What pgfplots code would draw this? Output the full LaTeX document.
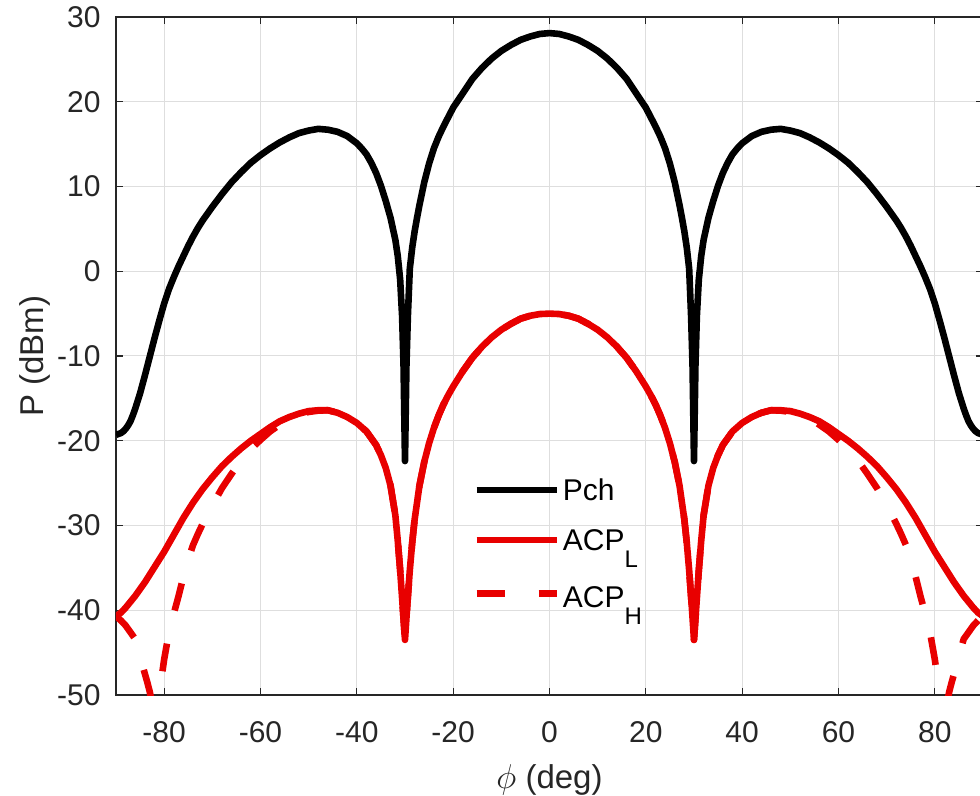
\documentclass[border=0pt]{standalone}
\usepackage{pgfplots}
\pgfplotsset{compat=1.18}
\usepackage{pgfplotstable}
\usepackage{fontspec}
\setmainfont{Liberation Sans}
\usetikzlibrary{calc}
\definecolor{axgray}{RGB}{38,38,38}
\definecolor{gridgray}{RGB}{222,222,222}
\definecolor{myred}{RGB}{232,0,0}

\pgfplotstableread{
x y
-90 -19.3
-89.5 -19.2
-89 -19.1
-88.5 -18.9
-88 -18.6
-87.5 -18.2
-87 -17.7
-86.5 -17.0
-86 -16.2
-85.5 -15.3
-85 -14.4
-84 -12.3
-83 -10.1
-82 -7.9
-81 -5.8
-80 -3.8
-79 -2.1
-78 -0.7
-77 0.6
-76 1.8
-75 3.0
-74 4.1
-73 5.1
-72 6.0
-70 7.6
-68 9.1
-66 10.5
-64 11.7
-62 12.8
-60 13.7
-58 14.5
-56 15.2
-54 15.8
-52 16.3
-50 16.6
-48 16.8
-46 16.7
-44 16.45
-42 15.95
-40 15.1
-39 14.5
-38 13.8
-37 12.8
-36 11.6
-35 10.1
-34 8.3
-33 6.3
-32 3.7
-31.5 1.8
-31 -1.0
-30.6 -5.3
-30.3 -11.2
-30 -22.4
-29.7 -11.2
-29.4 -5.3
-29 0.3
-28.5 2.8
-28 4.7
-27.5 6.3
-27 7.8
-26 10.5
-25 12.7
-24 14.5
-23 15.9
-22 17.1
-21 18.2
-20 19.3
-18 21.0
-16 22.7
-14 24.0
-12 25.1
-10 26.0
-8 26.7
-6 27.3
-4 27.7
-2 28.0
0 28.1
2 28.0
4 27.7
6 27.3
8 26.7
10 26.0
12 25.1
14 24.0
16 22.7
18 21.0
20 19.3
21 18.2
22 17.1
23 15.9
24 14.5
25 12.7
26 10.5
27 7.8
27.5 6.3
28 4.7
28.5 2.8
29 0.3
29.4 -5.3
29.7 -11.2
30 -22.4
30.3 -11.2
30.6 -5.3
31 -1.0
31.5 1.8
32 3.7
33 6.3
34 8.3
35 10.1
36 11.6
37 12.8
38 13.8
39 14.5
40 15.1
42 15.95
44 16.45
46 16.7
48 16.8
50 16.6
52 16.3
54 15.8
56 15.2
58 14.5
60 13.7
62 12.8
64 11.7
66 10.5
68 9.1
70 7.6
72 6.0
73 5.1
74 4.1
75 3.0
76 1.8
77 0.6
78 -0.7
79 -2.1
80 -3.8
81 -5.8
82 -7.9
83 -10.1
84 -12.3
85 -14.4
85.5 -15.3
86 -16.2
86.5 -17.0
87 -17.7
87.5 -18.2
88 -18.6
88.5 -18.9
89 -19.1
89.5 -19.2
90 -19.3
}\pch

\pgfplotstableread{
x y
-90 -40.7
-89 -40.3
-88 -39.7
-87 -39.0
-86 -38.3
-85 -37.5
-84 -36.7
-83 -35.8
-82 -34.9
-81 -34.0
-80 -33.1
-79 -32.1
-78 -31.1
-77 -30.1
-76 -29.1
-75 -28.2
-74 -27.3
-72 -25.7
-70 -24.3
-68 -23.0
-66 -21.9
-64 -20.9
-62 -20.0
-60 -19.2
-58 -18.4
-56 -17.7
-54 -17.2
-52 -16.8
-50 -16.5
-48 -16.4
-46 -16.4
-44 -16.7
-42 -17.2
-40 -17.9
-38 -18.9
-36 -20.5
-35 -21.7
-34 -23.2
-33 -25.3
-32 -28.8
-31.5 -31.8
-31 -35.3
-30.5 -39.4
-30 -43.5
-29.5 -39.2
-29 -35.3
-28.5 -32.0
-28 -29.3
-27 -25.3
-26 -22.5
-25 -20.3
-24 -18.5
-23 -17.0
-22 -15.7
-21 -14.6
-20 -13.6
-18 -11.8
-16 -10.2
-14 -8.9
-12 -7.8
-10 -6.9
-8 -6.2
-6 -5.6
-4 -5.25
-2 -5.05
0 -5.0
2 -5.05
4 -5.25
6 -5.6
8 -6.2
10 -6.9
12 -7.8
14 -8.9
16 -10.2
18 -11.8
20 -13.6
21 -14.6
22 -15.7
23 -17.0
24 -18.5
25 -20.3
26 -22.5
27 -25.3
28 -29.3
28.5 -32.0
29 -35.3
29.5 -39.2
30 -43.5
30.5 -39.4
31 -35.3
31.5 -31.8
32 -28.8
33 -25.3
34 -23.2
35 -21.7
36 -20.5
38 -18.9
40 -17.9
42 -17.2
44 -16.7
46 -16.4
48 -16.4
50 -16.5
52 -16.8
54 -17.2
56 -17.7
58 -18.4
60 -19.2
62 -20.0
64 -20.9
66 -21.9
68 -23.0
70 -24.3
72 -25.7
74 -27.3
75 -28.2
76 -29.1
77 -30.1
78 -31.1
79 -32.1
80 -33.1
81 -34.0
82 -34.9
83 -35.8
84 -36.7
85 -37.5
86 -38.3
87 -39.0
88 -39.7
89 -40.3
90 -40.7
}\acpl

\pgfplotstableread{
x y
-90 -40.7
-89 -41.2
-88 -41.8
-87 -42.6
-86 -43.4
-85.5 -44.4
-85 -45.4
-84.5 -46.5
-84 -47.5
-83.5 -48.5
-83 -49.6
-82.5 -51.0
-82 -54.0
-81.8 -58.0
-81.5 -53.5
-81.1 -50.3
-80.5 -47.8
-80 -45.8
-79.5 -44.2
-79 -42.6
-78 -40.4
-77 -38.3
-76 -36.0
-75 -34.0
-74 -32.3
-73 -31.0
-72 -29.8
-71 -28.7
-70 -27.6
-68 -25.6
-66 -23.9
-64 -22.3
-62 -21.0
-60 -19.9
-58 -18.9
-56 -18.1
-54 -17.4
-52 -16.9
-50 -16.6
-48 -16.45
-46 -16.4
-44 -16.7
-42 -17.2
-40 -17.9
-38 -18.9
-36 -20.5
-35 -21.7
-34 -23.2
-33 -25.3
-32 -28.8
-31.5 -31.8
-31 -35.3
-30.5 -39.4
-30 -43.5
-29.5 -39.2
-29 -35.3
-28.5 -32.0
-28 -29.3
-27 -25.3
-26 -22.5
-25 -20.3
-24 -18.5
-23 -17.0
-22 -15.7
-21 -14.6
-20 -13.6
-18 -11.8
-16 -10.2
-14 -8.9
-12 -7.8
-10 -6.9
-8 -6.2
-6 -5.6
-4 -5.25
-2 -5.05
0 -5.0
2 -5.05
4 -5.25
6 -5.6
8 -6.2
10 -6.9
12 -7.8
14 -8.9
16 -10.2
18 -11.8
20 -13.6
21 -14.6
22 -15.7
23 -17.0
24 -18.5
25 -20.3
26 -22.5
27 -25.3
28 -29.3
28.5 -32.0
29 -35.3
29.5 -39.2
30 -43.5
30.5 -39.4
31 -35.3
31.5 -31.8
32 -28.8
33 -25.3
34 -23.2
35 -21.7
36 -20.5
38 -18.9
40 -17.9
42 -17.2
44 -16.7
46 -16.4
48 -16.45
50 -16.6
52 -16.9
54 -17.4
56 -18.1
58 -18.9
60 -19.9
62 -21.0
64 -22.3
66 -23.9
68 -25.6
70 -27.6
71 -28.7
72 -29.8
73 -31.0
74 -32.3
75 -34.0
76 -36.0
77 -38.3
78 -40.4
79 -42.6
79.5 -44.2
80 -45.8
80.5 -47.8
81.1 -50.3
81.5 -53.5
81.8 -58.0
82 -54.0
82.5 -51.0
83 -49.6
83.5 -48.5
84 -47.5
84.5 -46.5
85 -45.4
85.5 -44.4
86 -43.4
87 -42.6
88 -41.8
89 -41.2
90 -40.7
}\acph

\begin{document}
\begin{tikzpicture}
\begin{axis}[name=ax,
  scale only axis, width=433.5bp, height=339bp,
  xmin=-90, xmax=90, ymin=-50, ymax=30,
  xtick={-80,-60,...,80}, ytick={-50,-40,...,30},
  tick align=inside, major tick length=3.5bp,
  tick style={axgray, line width=0.6bp},
  axis line style={axgray, line width=0.8bp},
  grid=major, major grid style={gridgray, line width=0.5bp},
  /pgf/number format/assume math mode=true,
  ticklabel style={font=\fontsize{15bp}{18bp}\selectfont, text=axgray, inner sep=0pt},
  yticklabel style={xshift=-7.5bp},
  xticklabel style={yshift=-13bp},
  xlabel={$\phi$ (deg)}, ylabel={P (dBm)},
  every axis x label/.style={at={(axis description cs:0.5,0)}, anchor=center, yshift=-42.5bp,
    font=\fontsize{16.5bp}{20bp}\selectfont, text=axgray, inner sep=0pt},
  every axis y label/.style={at={(axis description cs:0,0.5)}, anchor=center, rotate=90, yshift=40.5bp,
    font=\fontsize{16.5bp}{20bp}\selectfont, text=axgray, inner sep=0pt},
  legend style={draw=none, fill=none, at={(0.4117,0.319)}, anchor=north west,
    inner sep=0pt, row sep=14.3bp, column sep=1.5bp,
    nodes={inner sep=0pt, text depth=0pt, font=\fontsize{15bp}{18bp}\selectfont, text=black}},
  legend cell align=left,
  legend image code/.code={\draw[#1] (0bp,0bp) -- (40bp,0bp);},
]
\addplot[black, line width=3.3bp, line join=round] table[x=x,y=y] {\pch};
\addlegendentry{Pch}
\addplot[myred, line width=3.3bp, line join=round] table[x=x,y=y] {\acpl};
\addlegendentry{ACP\raisebox{-8.5bp}{\fontsize{12bp}{12bp}\selectfont L}}
\addplot[myred, line width=3.3bp, line join=round, line cap=butt, dash pattern=on 14bp off 17bp] table[x=x,y=y] {\acph};
\addlegendentry{\rule{0pt}{14.2bp}ACP\raisebox{-8.5bp}{\fontsize{12bp}{12bp}\selectfont H}}
\end{axis}
\pgfresetboundingbox
\path[use as bounding box] ($(ax.south west)+(-58bp,-50.5bp)$) rectangle ($(ax.north west)+(432bp,8.5bp)$);
\end{tikzpicture}
\end{document}
